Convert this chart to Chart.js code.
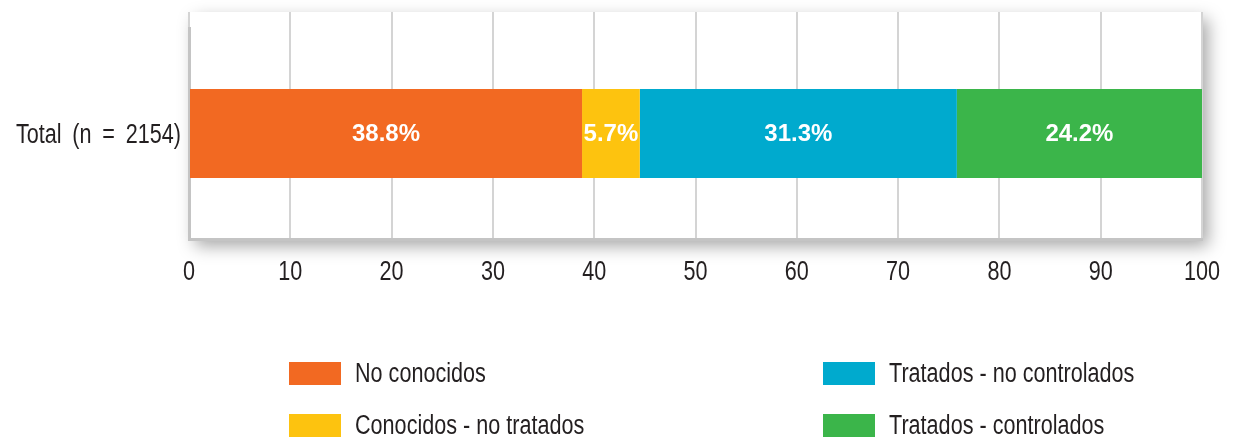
<!DOCTYPE html>
<html>
<head>
<meta charset="utf-8">
<script src="https://cdn.jsdelivr.net/npm/chart.js@4/dist/chart.umd.min.js"></script>
<style>
  html, body { margin: 0; padding: 0; background: #fff; }
  #wrap { width: 1235px; height: 439px; }
</style>
</head>
<body>
<div id="wrap"><canvas id="chart" width="1235" height="439"></canvas></div>
<script>
// data
const categories = ['Total (n = 2154)'];
const seriesNames = ['No conocidos', 'Conocidos - no tratados', 'Tratados - no controlados', 'Tratados - controlados'];
const noConocidos = [38.8];
const conocidosNoTratados = [5.7];
const tratadosNoControlados = [31.3];
const tratadosControlados = [24.2];
const xTicks = [0, 10, 20, 30, 40, 50, 60, 70, 80, 90, 100];

const colors = ['#F26922', '#FDC30F', '#00AACE', '#3BB54A'];
const FONT = "27px 'Liberation Sans', Arial, sans-serif";
const NARROW = 0.8; // squeeze Arial-like text to look like the condensed face
const TEXT = '#231f20';

// draw text compressed horizontally
function narrowText(ctx, text, x, y, align, wordGap) {
    ctx.save();
    ctx.translate(x, y);
    ctx.scale(NARROW, 1);
    ctx.textAlign = align;
    if (wordGap) ctx.wordSpacing = wordGap + 'px';
    ctx.fillText(text, 0, 0);
    ctx.restore();
}

// white plot panel with a soft drop shadow
const panelShadow = {
    id: 'panelShadow',
    beforeDraw(chart) {
        const { ctx, chartArea } = chart;
        const top = chart.scales.xTop.top;
        ctx.save();
        ctx.shadowColor = 'rgba(0,0,0,0.35)';
        ctx.shadowBlur = 16;
        ctx.shadowOffsetX = 6;
        ctx.shadowOffsetY = 7;
        ctx.fillStyle = '#fff';
        ctx.fillRect(chartArea.left, top, chartArea.right - chartArea.left, chartArea.bottom - top);
        ctx.restore();
    }
};

// axis labels in the condensed look, placed by the chart's scales
const axisLabels = {
    id: 'axisLabels',
    afterDraw(chart) {
        const { ctx } = chart;
        const x = chart.scales.x, y = chart.scales.y;
        ctx.save();
        ctx.font = FONT;
        ctx.fillStyle = TEXT;
        ctx.textBaseline = 'middle';
        x.ticks.forEach((t, i) => {
            narrowText(ctx, String(t.value), x.getPixelForTick(i), x.top + 34, 'center');
        });
        y.getLabels().forEach((lab, i) => {
            narrowText(ctx, lab, y.right - 8, y.getPixelForValue(i) + 2, 'right', 6);
        });
        ctx.restore();
    }
};

// percentage labels inside the bars
const barLabels = {
    id: 'barLabels',
    afterDatasetsDraw(chart) {
        const { ctx } = chart;
        ctx.save();
        ctx.font = "bold 24px 'Liberation Sans', Arial, sans-serif";
        ctx.fillStyle = '#fff';
        ctx.textAlign = 'center';
        ctx.textBaseline = 'middle';
        chart.data.datasets.forEach((ds, i) => {
            chart.getDatasetMeta(i).data.forEach((bar, j) => {
                const p = bar.getCenterPoint();
                ctx.fillText(ds.data[j].toFixed(1) + '%', p.x, p.y + 1);
            });
        });
        ctx.restore();
    }
};

// two-column legend under the axis
const sideLegend = {
    id: 'sideLegend',
    afterDraw(chart) {
        const { ctx } = chart;
        const colX = [289, 823];
        const rowY = [362, 414];
        ctx.save();
        ctx.font = FONT;
        ctx.textBaseline = 'middle';
        chart.data.datasets.forEach((ds, i) => {
            const x = colX[Math.floor(i / 2)];
            const y = rowY[i % 2];
            ctx.fillStyle = ds.backgroundColor;
            ctx.fillRect(x, y, 52, 23);
            ctx.fillStyle = TEXT;
            narrowText(ctx, ds.label, x + 66, y + 13, 'left');
        });
        ctx.restore();
    }
};

const seriesData = [noConocidos, conocidosNoTratados, tratadosNoControlados, tratadosControlados];

new Chart(document.getElementById('chart').getContext('2d'), {
    type: 'bar',
    data: {
        labels: categories,
        datasets: seriesNames.map((name, i) => ({
            label: name,
            data: seriesData[i],
            backgroundColor: colors[i],
            borderWidth: 0,
            barPercentage: 0.422,
            categoryPercentage: 1
        }))
    },
    options: {
        indexAxis: 'y',
        responsive: false,
        animation: false,
        layout: { padding: { top: 12, right: 33, left: 0, bottom: 0 } },
        plugins: {
            legend: { display: false },
            tooltip: { enabled: false }
        },
        scales: {
            x: {
                stacked: true,
                min: 0,
                max: 100,
                afterBuildTicks: s => { s.ticks = xTicks.map(v => ({ value: v })); },
                grid: { color: '#d4d4d4', lineWidth: 2, drawTicks: false },
                border: { display: true, color: '#c4c4c4', width: 3 },
                ticks: { display: false },
                afterFit: s => { s.height = 200; }
            },
            xTop: {
                position: 'top',
                axis: 'x',
                min: 0,
                max: 100,
                afterBuildTicks: s => { s.ticks = xTicks.map(v => ({ value: v })); },
                grid: { color: '#d4d4d4', lineWidth: 2, drawOnChartArea: false, drawTicks: true, tickLength: 16 },
                border: { display: false },
                ticks: { display: false },
                afterFit: s => { s.height = 16; }
            },
            y: {
                stacked: true,
                grid: { display: false },
                border: { display: true, color: '#c4c4c4', width: 3 },
                ticks: { display: false },
                afterFit: s => { s.width = 189; }
            }
        }
    },
    plugins: [panelShadow, barLabels, axisLabels, sideLegend]
});
</script>
</body>
</html>
